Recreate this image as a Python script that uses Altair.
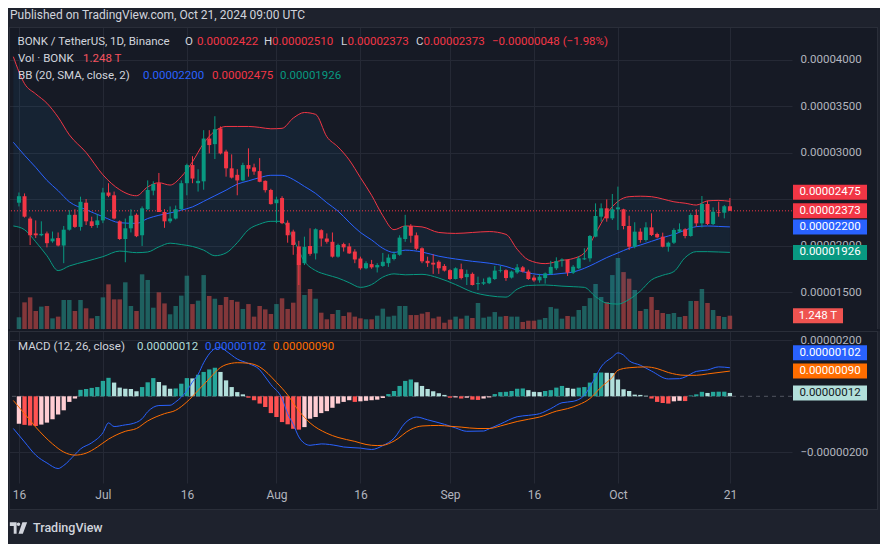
import altair as alt
import pandas as pd
import numpy as np

START = pd.Timestamp("2024-06-16", tz="UTC")

# ---- daily candles, prices in units of 1e-6 USDT ----
opens = [24.6, 25.3, 22.9, 21.3, 21.1, 21.3, 20.45, 20.8, 20.0, 21.7,
         23.3, 22.0, 24.6, 22.6, 22.2, 22.7, 25.7, 25.4, 22.6, 20.7,
         21.85, 23.3, 21.1, 23.9, 25.9, 26.7, 23.6, 22.6, 22.9, 23.9,
         26.7, 28.65, 26.7, 26.9, 31.5, 30.9, 32.6, 30.1, 28.3, 27.6,
         27.0, 28.65, 28.4, 28.0, 26.95, 25.97, 24.55, 25.1, 22.45, 21.5,
         19.9, 18.1, 19.95, 19.15, 21.65, 20.75, 20.4, 18.8, 20.15, 19.9,
         19.35, 18.6, 17.55, 18.0, 17.65, 17.8, 18.1, 18.55, 19.0, 20.7,
         22.1, 21.1, 19.7, 18.35, 18.15, 18.25, 17.8, 17.35, 16.4, 17.45,
         16.6, 16.95, 15.85, 15.9, 15.95, 16.4, 17.3, 17.35, 16.55, 17.1,
         17.65, 17.2, 16.55, 16.25, 16.5, 16.95, 17.55, 18.37, 18.44, 17.08,
         17.55, 18.51, 18.62, 20.95, 23.1, 24.0, 22.92, 23.89, 23.89, 22.1,
         19.87, 21.49, 20.59, 21.95, 21.24, 20.95, 19.87, 20.3, 21.49, 21.74,
         21.02, 23.28, 22.38, 24.46, 22.31, 23.6, 23.53, 24.22]
highs = [25.7, 25.6, 23.1, 22.7, 22.6, 21.5, 21.5, 21.4, 22.1, 23.8,
         23.9, 25.25, 25.0, 23.1, 23.4, 26.2, 26.7, 25.8, 22.7, 22.9,
         23.9, 23.45, 24.2, 27.0, 26.9, 27.8, 23.9, 24.2, 24.3, 27.0,
         28.8, 29.6, 28.2, 32.4, 32.4, 33.9, 32.8, 30.3, 29.8, 28.2,
         28.9, 30.45, 28.8, 29.4, 27.0, 26.1, 25.25, 25.3, 22.7, 21.7,
         20.5, 20.95, 21.85, 21.85, 21.75, 21.3, 21.4, 20.2, 20.3, 20.25,
         19.6, 18.8, 18.3, 18.45, 18.1, 19.2, 19.05, 19.35, 21.1, 23.3,
         22.3, 21.4, 19.8, 18.8, 19.05, 18.4, 18.0, 17.45, 17.65, 18.05,
         17.4, 17.1, 16.65, 16.45, 16.65, 17.8, 17.8, 17.45, 17.3, 18.0,
         17.8, 17.4, 16.8, 16.95, 17.1, 18.35, 18.73, 18.62, 18.5, 17.9,
         18.87, 19.7, 21.13, 24.53, 24.53, 24.96, 25.54, 26.33, 23.95, 23.2,
         22.5, 21.85, 22.5, 23.46, 21.38, 21.38, 20.41, 21.85, 22.38, 21.85,
         23.46, 23.89, 25.32, 24.82, 24.1, 24.71, 24.35, 25.10]
lows = [24.2, 23.0, 20.05, 20.8, 21.0, 19.8, 20.3, 19.9, 18.1, 21.6,
        21.9, 21.6, 22.2, 21.9, 21.9, 22.4, 25.2, 22.8, 20.6, 18.2,
        21.4, 20.9, 19.95, 23.8, 25.4, 23.6, 21.9, 22.4, 22.8, 23.8,
        25.4, 26.7, 25.8, 26.0, 29.9, 29.3, 29.8, 27.4, 27.2, 25.4,
        26.9, 27.4, 27.6, 26.8, 25.7, 24.4, 22.4, 22.3, 20.3, 19.0,
        15.75, 17.9, 18.9, 18.5, 19.9, 20.2, 18.7, 18.7, 19.35, 19.1,
        18.1, 17.4, 17.45, 17.5, 17.1, 17.7, 17.7, 18.4, 18.9, 20.4,
        20.3, 19.5, 18.1, 17.7, 16.95, 16.95, 17.2, 16.3, 16.35, 16.35,
        15.75, 15.7, 15.2, 15.75, 15.85, 16.3, 17.1, 16.2, 16.45, 16.95,
        17.1, 16.3, 16.1, 16.0, 15.9, 16.85, 17.37, 17.72, 16.72, 16.94,
        17.44, 18.44, 18.26, 20.88, 22.56, 22.56, 22.74, 21.67, 21.74, 19.52,
        19.7, 20.3, 20.41, 21.02, 20.77, 19.8, 19.34, 20.16, 21.38, 20.77,
        20.95, 22.03, 21.95, 22.2, 22.2, 23.1, 22.92, 23.73]
closes = [25.3, 23.1, 21.1, 21.1, 21.25, 20.25, 20.75, 20.0, 21.7, 23.3,
          22.0, 24.7, 22.6, 22.1, 22.7, 25.7, 25.35, 22.9, 20.7, 21.85,
          23.2, 21.0, 24.0, 25.97, 26.6, 23.6, 22.6, 22.9, 23.9, 26.7,
          28.65, 27.2, 26.95, 31.5, 30.8, 32.5, 29.9, 28.3, 27.3, 27.0,
          28.65, 28.25, 27.95, 26.85, 25.95, 24.45, 24.95, 22.4, 21.1, 20.05,
          17.9, 19.85, 19.1, 21.75, 20.75, 20.4, 18.8, 20.05, 19.8, 19.15,
          18.5, 17.55, 18.1, 17.65, 17.9, 18.25, 18.7, 19.05, 20.85, 22.1,
          21.05, 19.65, 18.3, 18.1, 17.95, 17.55, 17.3, 16.4, 17.55, 16.5,
          16.95, 15.75, 15.95, 16.05, 16.55, 17.3, 17.37, 16.5, 17.2, 17.65,
          17.2, 16.4, 16.25, 16.65, 17.0, 17.7, 18.33, 18.5, 17.08, 17.72,
          18.62, 18.62, 21.02, 23.17, 24.0, 22.92, 23.89, 24.1, 22.1, 19.87,
          21.49, 20.59, 21.95, 21.13, 20.88, 19.87, 20.3, 21.67, 21.74, 21.02,
          23.28, 22.38, 24.46, 22.31, 23.63, 23.53, 24.22, 23.73]
# volume in trillions of BONK
volumes = [1.1, 2.5, 2.97, 1.69, 2.1, 2.16, 1.0, 1.16, 2.72, 2.72,
           1.69, 2.72, 1.94, 1.0, 1.22, 2.97, 4.19, 2.78, 2.78, 4.38,
           2.16, 1.69, 5.13, 4.6, 2.0, 3.44, 2.4, 1.38, 2.16, 3.13,
           5.0, 2.34, 2.66, 5.06, 3.1, 2.84, 2.25, 3.0, 2.72, 2.56,
           1.88, 2.34, 1.16, 2.16, 1.84, 1.41, 2.34, 2.88, 1.88, 2.47,
           7.03, 3.19, 3.75, 2.84, 1.53, 0.91, 1.41, 1.78, 1.22, 1.56,
           1.16, 1.0, 0.91, 0.91, 1.25, 1.91, 1.16, 1.25, 2.16, 2.16,
           1.31, 1.31, 1.44, 1.59, 1.0, 1.16, 0.59, 0.875, 1.16, 0.97,
           1.25, 1.03, 2.44, 1.06, 1.16, 1.59, 1.16, 1.22, 1.16, 1.16,
           0.66, 0.78, 0.78, 0.875, 1.03, 2.06, 1.91, 0.97, 1.22, 1.16,
           1.78, 2.16, 2.9, 4.22, 3.0, 2.53, 5.06, 6.66, 5.34, 4.72,
           3.66, 1.69, 1.88, 3.0, 1.78, 1.5, 1.41, 1.5, 1.13, 1.22,
           2.63, 2.63, 3.75, 2.44, 1.78, 1.22, 1.13, 1.248]
# MACD histogram, units of 1e-6
macd_hist = [-0.98, -1.02, -1.04, -1.06, -1.01, -0.94, -0.82, -0.65, -0.5, -0.2,
             -0.08, 0.23, 0.26, 0.30, 0.33, 0.55, 0.66, 0.49, 0.31, 0.27,
             0.26, 0.18, 0.33, 0.50, 0.65, 0.51, 0.39, 0.27, 0.28, 0.45,
             0.65, 0.64, 0.77, 0.87, 0.96, 1.02, 0.87, 0.57, 0.33, 0.15,
             0.07, -0.05, -0.14, -0.26, -0.38, -0.6, -0.74, -0.92, -1.0, -1.16,
             -1.19, -1.1, -0.8, -0.74, -0.6, -0.53, -0.41, -0.26, -0.2, -0.14,
             -0.2, -0.18, -0.16, -0.14, -0.12, -0.06, 0.08, 0.19, 0.37, 0.55,
             0.6, 0.5, 0.37, 0.26, 0.18, 0.11, 0.05, -0.05, -0.04, -0.08,
             -0.05, -0.12, -0.13, -0.08, -0.04, 0.08, 0.15, 0.16, 0.19, 0.27,
             0.28, 0.22, 0.16, 0.15, 0.19, 0.22, 0.31, 0.37, 0.3, 0.27,
             0.31, 0.33, 0.49, 0.83, 0.85, 0.84, 0.83, 0.6, 0.25, 0.19,
             0.06, 0.05, 0.02, -0.08, -0.2, -0.24, -0.26, -0.18, -0.16, -0.17,
             0.03, 0.07, 0.16, 0.12, 0.16, 0.165, 0.165, 0.12]

# ---- Bollinger bands (20, SMA, close, 2), sampled, day offsets from Jun 16 ----
bb_days = [-1, 1, 3, 5, 7, 9, 12, 15, 18, 21, 23, 25, 27, 29, 31, 33, 35, 37, 39, 41,
           43, 45, 47, 49, 51, 53, 55, 57, 59, 61, 63, 65, 67, 69, 72, 75, 78, 81, 84, 87,
           89, 91, 94, 97, 99, 101, 103, 105, 107, 109, 111, 113, 115, 117, 119, 121, 123, 125, 127]
bb_upper = [40.3, 37.4, 36.3, 35.3, 33.8, 31.9, 30.0, 27.6, 26.0, 25.35, 26.3, 26.75, 26.5, 27.4, 29.0,
            31.0, 32.3, 32.8, 32.8, 32.8, 32.7, 32.55, 32.6, 33.7, 34.3, 34.1, 31.7, 30.6, 29.2, 27.3,
            25.4, 23.2, 21.7, 22.1, 22.0, 21.4, 21.3, 21.4, 21.5, 21.2, 19.6, 18.45, 18.05, 18.4, 18.6,
            19.2, 21.3, 23.4, 24.75, 25.25, 25.3, 25.25, 25.0, 24.7, 24.55, 24.35, 24.8, 24.85, 24.75]
bb_basis = [31.1, 29.7, 28.4, 27.0, 25.9, 24.7, 23.85, 23.1, 22.45, 22.38, 22.9, 23.25, 23.5, 23.8, 24.15,
            24.75, 25.35, 25.95, 26.6, 26.95, 27.3, 27.55, 27.55, 27.1, 26.35, 25.6, 24.6, 23.7, 22.5, 21.4,
            20.6, 19.7, 19.25, 19.5, 19.3, 18.85, 18.55, 18.3, 18.1, 17.75, 17.35, 17.05, 16.85, 17.0, 17.15,
            17.55, 18.1, 18.7, 19.2, 19.7, 20.05, 20.45, 20.85, 21.2, 21.65, 22.03, 22.1, 22.05, 22.0]
bb_lower = [22.1, 21.7, 20.4, 18.9, 17.3, 17.8, 18.3, 18.8, 19.4, 19.23, 19.3, 19.85, 20.25, 20.1, 19.9,
            19.5, 18.9, 19.2, 20.3, 21.7, 22.3, 22.6, 22.6, 20.7, 18.3, 17.3, 16.85, 16.5, 16.0, 15.5,
            15.8, 16.6, 16.95, 16.85, 16.9, 16.5, 15.8, 15.0, 14.6, 14.45, 15.3, 15.7, 15.75, 15.63, 15.57,
            15.5, 14.5, 13.8, 13.7, 14.2, 15.1, 16.3, 16.8, 17.2, 18.7, 19.34, 19.34, 19.3, 19.26]

# ---- MACD (12, 26, close) lines, sampled ----
macd_days = [-1, 1, 3, 5, 7, 8, 10, 11, 13, 15, 16, 17, 19, 20, 22, 23, 25, 27, 28, 30,
             31, 32, 33, 35, 36, 37, 39, 41, 43, 44, 45, 47, 48, 49, 50, 51, 52, 54, 57, 58,
             61, 63, 65, 67, 69, 70, 71, 73, 76, 78, 80, 83, 84, 86, 89, 91, 93, 95, 97, 99,
             101, 103, 104, 106, 107, 108, 109, 111, 113, 116, 118, 119, 121, 123, 125, 127]
macd_vals = [-1.15, -1.63, -2.1, -2.38, -2.58, -2.47, -2.08, -1.88, -1.66, -1.3,
             -0.95, -1.08, -1.02, -0.99, -0.8, -0.55, -0.33, -0.32, -0.2, 0.2,
             0.51, 0.78, 1.2, 1.7, 1.75, 1.62, 1.33, 1.17, 0.95, 0.69,
             0.42, -0.08, -0.62, -1.0, -1.45, -1.68, -1.75, -1.7, -1.77, -1.81,
             -1.85, -1.9, -1.76, -1.5, -0.95, -0.8, -0.74, -0.84, -1.0, -1.13,
             -1.25, -1.24, -1.16, -0.99, -0.73, -0.68, -0.62, -0.44, -0.23, -0.18,
             0.04, 0.7, 1.05, 1.4, 1.55, 1.47, 1.27, 1.11, 0.9, 0.62,
             0.63, 0.69, 0.89, 0.94, 1.05, 1.02]
signal_days = [-1, 1, 3, 6, 8, 10, 12, 14, 16, 19, 21, 23, 26, 28, 30, 32, 34, 36, 38, 39,
               41, 43, 46, 48, 50, 52, 55, 57, 60, 62, 64, 65, 67, 70, 72, 75, 77, 79, 82, 84,
               86, 89, 91, 93, 96, 98, 100, 102, 104, 106, 107, 109, 112, 114, 116, 119, 121, 123, 127]
signal_vals = [-0.15, -0.62, -1.1, -1.7, -1.99, -2.1, -2.03, -1.81, -1.53, -1.25,
               -1.15, -0.88, -0.62, -0.5, -0.2, 0.21, 0.63, 1.03, 1.18, 1.2,
               1.18, 1.05, 0.5, 0.05, -0.52, -0.95, -1.32, -1.47, -1.61, -1.72,
               -1.76, -1.75, -1.6, -1.18, -1.06, -1.04, -1.07, -1.1, -1.15, -1.15,
               -1.06, -0.9, -0.82, -0.74, -0.53, -0.44, -0.3, -0.08, 0.33, 0.68,
               0.93, 1.02, 1.05, 0.99, 0.85, 0.75, 0.75, 0.8, 0.9]

tick_days = [0, 15, 30, 46, 61, 77, 92, 107, 127]
price_ticks = [15, 20, 25, 30, 35, 40]
macd_ticks = [-2, 2]

# ---------------- styling ----------------
FONT = "Roboto"
BG = "#161a25"
OUTER = "#1e222d"
GRID = "#252935"
FRAME = "#2a2e39"
TXT = "#d1d4dc"
AXT = "#b2b5be"
UP = "#089981"
DOWN = "#F23645"
BLUE = "#2962FF"
ORANGE = "#FF6D00"
W, HA, HB = 783, 302, 152
RIGHT = 871   # right edge of the whole picture, in panel coordinates


def to_ms(days):
    return [int((START + pd.Timedelta(days=float(d))).value // 10**6) for d in days]


candles = pd.DataFrame({"t": to_ms(range(len(opens))), "open": opens, "high": highs,
                        "low": lows, "close": closes, "vol": volumes, "hist": macd_hist})
prev = candles["hist"].shift(1).fillna(candles["hist"])
candles["hcol"] = np.where(candles["hist"] >= 0,
                           np.where(candles["hist"] >= prev, "#26A69A", "#B2DFDB"),
                           np.where(candles["hist"] >= prev, "#FFCDD2", "#FF5252"))
bb = pd.DataFrame({"t": to_ms(bb_days), "up": bb_upper, "mid": bb_basis, "lo": bb_lower})
macd_df = pd.DataFrame({"t": to_ms(macd_days), "v": macd_vals})
sig_df = pd.DataFrame({"t": to_ms(signal_days), "v": signal_vals})
ONE = pd.DataFrame({"k": [0]})

x_left = int((START - pd.Timedelta(days=0.882)).value // 10**6)
x_right = int((START + pd.Timedelta(days=137.2)).value // 10**6)
xscale = alt.Scale(type="utc", domain=[x_left, x_right])
tick_ms = to_ms(tick_days)

xA = alt.X("t:T", scale=xscale, title=None,
           axis=alt.Axis(values=tick_ms, labels=False, ticks=False, domain=False,
                         grid=True, gridColor=GRID, gridWidth=1))
xB = alt.X("t:T", scale=xscale, title=None,
           axis=alt.Axis(values=tick_ms, ticks=False, tickSize=0, domain=False, grid=True,
                         gridColor=GRID, labelColor=AXT, labelFont=FONT, labelFontSize=12,
                         labelPadding=6, labelFlush=False, labelOverlap=False, labelBound=False,
                         labelExpr="utcdate(datum.value)==1 ? utcFormat(datum.value,'%b') : utcFormat(datum.value,'%d')"))

pscale = alt.Scale(domain=[11.022, 43.495], nice=False, zero=False)
# the 0.00002500 label sits fully behind the value tags, as in the original
paxis = alt.Axis(orient="right", values=price_ticks, ticks=False, tickSize=0, domain=False,
                 grid=True, gridColor=GRID, labelColor=AXT, labelFont=FONT, labelFontSize=11.5,
                 labelPadding=8, labelAlign="left",
                 labelExpr="datum.value == 25 ? '' : format(datum.value/1000000,'.8f')")
vscale = alt.Scale(domain=[0, 28.33], nice=False, zero=False)
mscale = alt.Scale(domain=[-3.096, 2.332], nice=False, zero=False)
maxis = alt.Axis(orient="right", values=macd_ticks, ticks=False, tickSize=0, domain=False,
                 grid=True, gridColor=GRID, labelColor=AXT, labelFont=FONT, labelFontSize=11.5,
                 labelPadding=8, labelAlign="left",
                 labelExpr="replace(format(datum.value/1000000,'.8f'),'-','\u2212')")


def yP(field):
    return alt.Y(field, type="quantitative", scale=pscale, axis=paxis, title=None)


def yM(field):
    return alt.Y(field, type="quantitative", scale=mscale, axis=maxis, title=None)


def label(txt, px, py, color, size=11.5, align="left", weight="normal"):
    return alt.Chart(ONE).mark_text(text=txt, align=align, baseline="middle", color=color,
                                    fontSize=size, font=FONT, fontWeight=weight).encode(
        x=alt.value(px), y=alt.value(py))


def box(x1, x2, y1, y2, color):
    return alt.Chart(ONE).mark_rect(color=color).encode(
        x=alt.value(x1), x2=alt.value(x2), y=alt.value(y1), y2=alt.value(y2))


def hline(x1, x2, y, color=FRAME):
    return alt.Chart(ONE).mark_rule(color=color, strokeWidth=1).encode(
        x=alt.value(x1), x2=alt.value(x2), y=alt.value(y))


def vline(x, y1, y2, color=FRAME):
    return alt.Chart(ONE).mark_rule(color=color, strokeWidth=1).encode(
        x=alt.value(x), y=alt.value(y1), y2=alt.value(y2))


def tag(v, yfun, txt, color, tcolor="#ffffff", shift=0, x1=784, x2=858):
    r = alt.Chart(ONE).mark_rect(color=color, yOffset=-7.5 + shift, y2Offset=7.5 + shift).encode(
        x=alt.value(x1), x2=alt.value(x2), y=yfun(v), y2=alt.datum(v))
    t = alt.Chart(ONE).mark_text(text=txt, align="center", baseline="middle", color=tcolor,
                                 fontSize=11.5, font=FONT, dy=shift).encode(
        x=alt.value((x1 + x2) / 2), y=yfun(v))
    return [r, t]


def yPd(v):
    return alt.Y(datum=v, type="quantitative", scale=pscale, axis=paxis, title=None)


def yMd(v):
    return alt.Y(datum=v, type="quantitative", scale=mscale, axis=maxis, title=None)


def yVd(v):
    return alt.Y(datum=v, type="quantitative", scale=vscale, axis=None, title=None)


# ---------------- panel A: price ----------------
up_cond = "datum.close >= datum.open"
vol_bars = alt.Chart(candles).mark_bar(size=4.5, opacity=0.5).encode(
    x=xA, y=alt.Y("vol:Q", scale=vscale, axis=None, title=None),
    color=alt.condition(up_cond, alt.value("#26a69a"), alt.value("#ef5350")))
vol_group = alt.layer(vol_bars, *tag(volumes[-1], yVd, "1.248 T", "#ef5350", x1=784, x2=834))

band = alt.Chart(bb).mark_area(color="#2196f3", opacity=0.07, clip=True,
                               interpolate="monotone").encode(x=xA, y=yP("up"), y2="lo")
l_up = alt.Chart(bb).mark_line(color=DOWN, strokeWidth=1, clip=True,
                               interpolate="monotone").encode(x=xA, y=yP("up"))
l_mid = alt.Chart(bb).mark_line(color=BLUE, strokeWidth=1, clip=True,
                                interpolate="monotone").encode(x=xA, y=yP("mid"))
l_lo = alt.Chart(bb).mark_line(color=UP, strokeWidth=1, clip=True,
                               interpolate="monotone").encode(x=xA, y=yP("lo"))
last_line = alt.Chart(ONE).mark_rule(color=DOWN, strokeDash=[1, 2], strokeWidth=1).encode(
    y=yPd(closes[-1]))
wicks = alt.Chart(candles).mark_rule(strokeWidth=1).encode(
    x=xA, y=yP("low"), y2="high",
    color=alt.condition(up_cond, alt.value(UP), alt.value(DOWN)))
bodies = alt.Chart(candles).mark_bar(size=4).encode(
    x=xA, y=yP("open"), y2="close",
    color=alt.condition(up_cond, alt.value(UP), alt.value(DOWN)))

decoA = [box(-1, RIGHT, -19, 0, OUTER), box(-1, 0, 0, HA, OUTER), box(869, RIGHT, 0, HA, OUTER),
         hline(0, 869, 0.5), vline(0.5, 0, HA), vline(868.5, 0, HA)]
legendA = [
    label("Published on TradingView.com, Oct 21, 2024 09:00 UTC", 1, -12.5, TXT, 12),
    label("BONK / TetherUS, 1D, Binance", 8.5, 15, TXT),
    label("O", 176, 15, TXT), label("0.00002422", 188, 15, DOWN),
    label("H", 255, 15, TXT), label("0.00002510", 263, 15, DOWN),
    label("L", 332, 15, TXT), label("0.00002373", 338.5, 15, DOWN),
    label("C", 407, 15, TXT), label("0.00002373", 414.5, 15, DOWN),
    label("\u22120.00000048 (\u22121.98%)", 483, 15, DOWN),
    label("Vol \u00b7 BONK", 9, 32, TXT), label("1.248 T", 74, 32, "#f7525f"),
    label("BB (20, SMA, close, 2)", 9, 48.5, TXT),
    label("0.00002200", 134, 48.5, BLUE), label("0.00002475", 203, 48.5, DOWN),
    label("0.00001926", 271, 48.5, UP),
]
tagsA = (tag(bb_upper[-1], yPd, "0.00002475", DOWN, shift=-9)
         + tag(closes[-1], yPd, "0.00002373", DOWN)
         + tag(bb_basis[-1], yPd, "0.00002200", BLUE)
         + tag(bb_lower[-1], yPd, "0.00001926", UP))

price_group = alt.layer(*decoA, band, l_up, l_mid, l_lo, last_line, wicks, bodies,
                        *tagsA, *legendA)
panelA = alt.layer(vol_group, price_group).resolve_scale(y="independent").properties(
    width=W, height=HA)

# ---------------- panel B: MACD ----------------
decoB = [box(-1, RIGHT, 179, 215, OUTER), box(-1, 0, 0, 215, OUTER), box(869, RIGHT, 0, 179, OUTER),
         hline(0, 869, 0.5), hline(0, 869, 178.5), vline(0.5, 0, 179), vline(868.5, 0, 179)]
zero = alt.Chart(ONE).mark_rule(color="#787b86", opacity=0.6, strokeDash=[4, 4]).encode(
    y=yMd(0))
hist = alt.Chart(candles).mark_bar(size=4.3).encode(
    x=xB, y=yM("hist"), y2=alt.datum(0), color=alt.Color("hcol:N", scale=None))
mline = alt.Chart(macd_df).mark_line(color=BLUE, strokeWidth=1, clip=True,
                                     interpolate="monotone").encode(x=xB, y=yM("v"))
sline = alt.Chart(sig_df).mark_line(color=ORANGE, strokeWidth=1, clip=True,
                                    interpolate="monotone").encode(x=xB, y=yM("v"))
legendB = [
    label("MACD (12, 26, close)", 9, 16, TXT),
    label("0.00000012", 128, 16, "#B2DFDB"),
    label("0.00000102", 196, 16, BLUE),
    label("0.00000090", 264, 16, ORANGE),
    label("TradingView", 24, 197, TXT, 12.5, weight=500),
]
logo = alt.Chart(ONE).mark_point(
    shape=("M-1,-0.67L-0.22,-0.67L-0.22,0.67L-0.55,0.67L-0.55,-0.22L-1,-0.22Z"
           "M-0.2,-0.44A0.2,0.2 0 1,0 0.2,-0.44A0.2,0.2 0 1,0 -0.2,-0.44Z"
           "M0.45,-0.67L1,-0.67L0.5,0.67L0,0.67Z"),
    filled=True, size=300, color=TXT, opacity=1, strokeWidth=0).encode(
    x=alt.value(9.5), y=alt.value(197))
tagsB = (tag(macd_vals[-1], yMd, "0.00000102", BLUE, shift=-15)
         + tag(signal_vals[-1], yMd, "0.00000090", ORANGE)
         + tag(macd_hist[-1], yMd, "0.00000012", "#B2DFDB", tcolor="#131722"))

panelB = alt.layer(*decoB, zero, hist, mline, sline, *tagsB, *legendB, logo).properties(
    width=W, height=HB)

chart = alt.vconcat(panelA, panelB, spacing=0).properties(
    padding=0, background=BG
).configure_view(stroke=None).configure_axis(gridColor=GRID)

chart.save("out.html", embed_options={"renderer": "svg", "actions": False})
